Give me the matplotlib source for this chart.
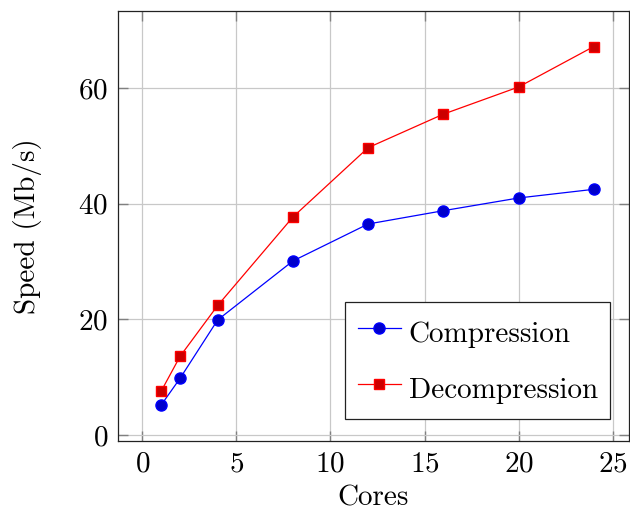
import matplotlib
matplotlib.use("Agg")
import matplotlib.pyplot as plt

# 数据
cores = [1, 2, 4, 8, 12, 16, 20, 24]
compression = [5.2, 9.8, 19.9, 30.1, 36.5, 38.8, 41.0, 42.5]
decompression = [7.6, 13.6, 22.4, 37.7, 49.7, 55.5, 60.2, 67.2]
x_ticks = [0, 5, 10, 15, 20, 25]
y_ticks = [0, 20, 40, 60]

plt.rcParams['font.family'] = 'cmr10'
plt.rcParams['mathtext.fontset'] = 'cm'
plt.rcParams['axes.formatter.use_mathtext'] = True

fig = plt.figure(figsize=(6.3, 5.12), dpi=100)
ax = fig.add_axes([0.1873, 0.1387, 0.811, 0.8404])

ax.plot(cores, compression, color='#0000ff', lw=0.9, marker='o', ms=8,
        mfc='#0000cc', mec='#0000ff', label='Compression', zorder=3)
ax.plot(cores, decompression, color='#ff0000', lw=0.9, marker='s', ms=7.5,
        mfc='#cc0000', mec='#ff0000', label='Decompression', zorder=3)

ax.set_xlim(-1.30, 25.87)
ax.set_ylim(-1.04, 73.4)
ax.set_xticks(x_ticks)
ax.set_yticks(y_ticks)
ax.grid(True, color='#c8c8c8', lw=0.9)
ax.set_axisbelow(True)

ax.tick_params(direction='in', length=7, width=1, color='#808080',
               top=True, right=True, labelsize=21)
ax.tick_params(axis='x', pad=7)
ax.tick_params(axis='y', pad=7)
for s in ax.spines.values():
    s.set_color('#222222')
    s.set_linewidth(0.9)

ax.set_xlabel('Cores', fontsize=21, labelpad=6)
ax.set_ylabel('Speed (Mb/s)', fontsize=21, labelpad=26)

leg = ax.legend(loc='lower right', bbox_to_anchor=(0.963, 0.051),
                borderaxespad=0, fontsize=21, fancybox=False,
                edgecolor='#222222', framealpha=1, handlelength=1.5,
                handleheight=1.53, labelspacing=0.7, borderpad=0.42,
                handletextpad=0.25)
leg.get_frame().set_linewidth(0.9)

plt.savefig('out.png', dpi=100)
